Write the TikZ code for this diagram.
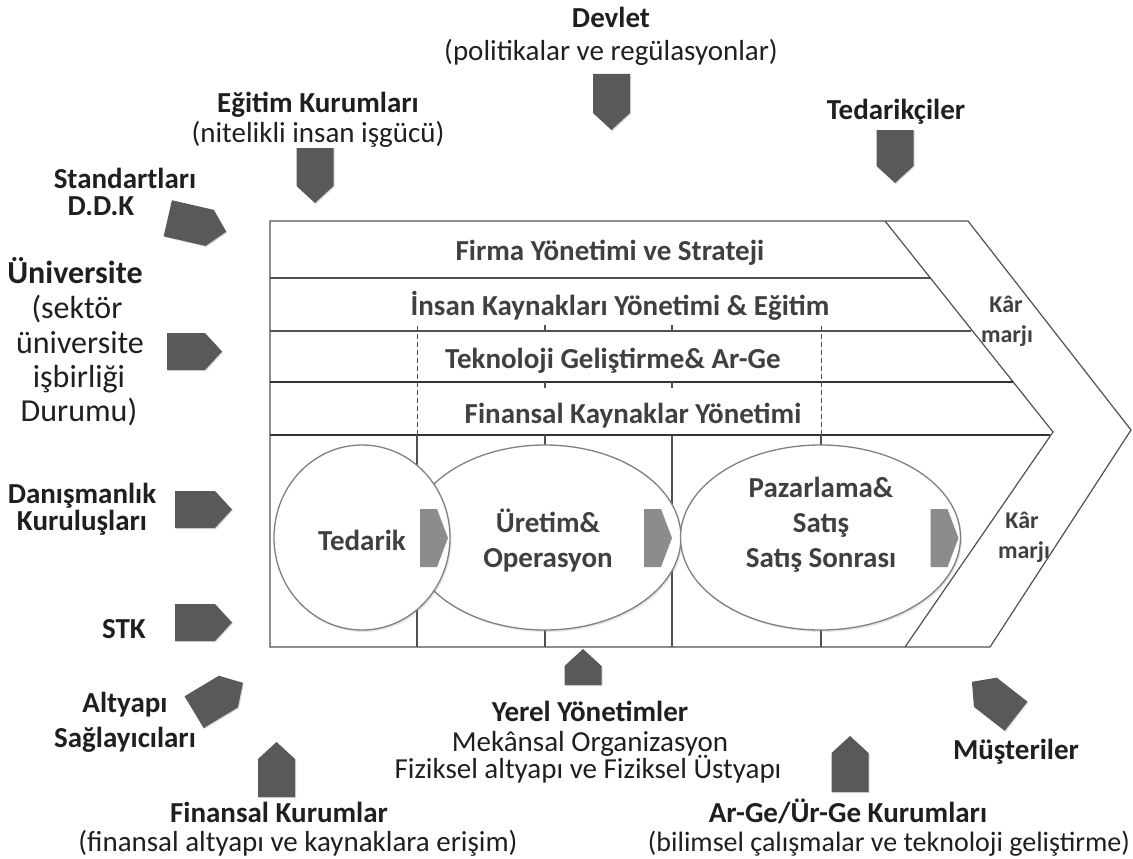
\documentclass[tikz,border=0pt]{standalone}
\usepackage{fontspec}
\setmainfont{Carlito}
\usetikzlibrary{shapes.geometric,shadows}

\definecolor{arrowgray}{HTML}{595959}
\definecolor{tabgray}{HTML}{8C8C8C}
\definecolor{linegray}{HTML}{505050}
\definecolor{rimgray}{HTML}{808080}
\definecolor{inktext}{HTML}{404040}
\definecolor{outtext}{HTML}{1F1F1F}

\tikzset{
  pics/inarrow/.style={code={
    \fill[arrowgray, drop shadow={opacity=.3, shadow xshift=1pt, shadow yshift=-1pt}]
      (-#1,-18.5) -- (#1-17,-18.5) -- (#1,0) -- (#1-17,18.5) -- (-#1,18.5) -- cycle;
  }},
  pics/steptab/.style={code={
    \fill[tabgray] (-14,-29) -- (3,-29) -- (14,0) -- (3,29) -- (-14,29) -- cycle;
  }},
  chainline/.style={draw=linegray, line width=1.2pt},
  thickrule/.style={draw=black!80, line width=2.8pt},
  dashrule/.style={draw=linegray, line width=0.9pt, dash pattern=on 5pt off 3pt},
  stage/.style={ellipse, draw=rimgray, line width=1.3pt, fill=white, inner sep=0pt,
    drop shadow={opacity=.2, shadow xshift=1.5pt, shadow yshift=-2pt}},
  outlabel/.style={anchor=base, inner sep=0pt, text=outtext, font=\bfseries\fontsize{29}{34}\selectfont},
  outnote/.style={anchor=base, inner sep=0pt, text=outtext, font=\fontsize{29}{34}\selectfont},
  unilabel/.style={anchor=base, inner sep=0pt, text=outtext, font=\fontsize{32}{36}\selectfont},
  bandlabel/.style={anchor=base, inner sep=0pt, text=inktext, font=\bfseries\fontsize{29}{34}\selectfont},
  marginlabel/.style={anchor=base, inner sep=0pt, text=inktext, font=\bfseries\fontsize{24}{28}\selectfont},
}

\begin{document}
\begin{tikzpicture}[x=1pt, y=-1pt]
\useasboundingbox (0,0) rectangle (1133,859);

% value chain frame
\draw[chainline] (270,221) -- (968,221) -- (1131,430) -- (990,647) -- (270,647) -- cycle;
\draw[chainline] (885,221) -- (1053,432) -- (905,647);
\draw[chainline] (270,278) -- (930,278);
\draw[chainline] (270,331) -- (971,331);
\draw[thickrule] (270,382) -- (1013,382);
\draw[thickrule] (270,435) -- (1050,435);
\draw[dashrule] (417,326) -- (417,435);
\draw[dashrule] (821,326) -- (821,435);
\foreach \x in {545,672} {
  \draw[chainline] (\x,325) -- (\x,331);
  \draw[chainline] (\x,382) -- (\x,388);
}
\foreach \x in {417,545,672,821}
  \draw[chainline] (\x,435) -- (\x,647);

% primary activities
\node[stage, minimum width=272pt, minimum height=185pt] (uretim) at (545,537.5) {};
\node[stage, minimum width=280pt, minimum height=185pt] (pazarlama) at (820.5,537.5) {};
\node[stage, minimum width=176pt, minimum height=185pt] (tedarik) at (362,537.5) {};

\pic (tab1) at (434,538) {steptab};
\pic (tab2) at (658,538) {steptab};
\pic (tab3) at (944.5,538) {steptab};

\node[bandlabel] (tedariktext) at (362,550) {Tedarik};
\node[bandlabel] (uretimtext) at (548,532) {Üretim\&};
\node[bandlabel] (operasyontext) at (548,567) {Operasyon};
\node[bandlabel] (pazarlamatext) at (821,497) {Pazarlama\&};
\node[bandlabel] (satistext) at (821,532) {Satış};
\node[bandlabel] (sonrasitext) at (821,567) {Satış Sonrası};

% support activities
\node[bandlabel] (firma) at (610,260) {Firma Yönetimi ve Strateji};
\node[bandlabel] (insan) at (620,315) {İnsan Kaynakları Yönetimi \& Eğitim};
\node[bandlabel] (teknoloji) at (613,368) {Teknoloji Geliştirme\& Ar-Ge};
\node[bandlabel] (finansyon) at (633,423) {Finansal Kaynaklar Yönetimi};

\node[marginlabel] (kar1) at (1006,312) {Kâr};
\node[marginlabel] (marj1) at (1007,342) {marjı};
\node[marginlabel] (kar2) at (1022,528) {Kâr};
\node[marginlabel] (marj2) at (1024,558) {marjı};

% outside actors
\node[outlabel] (devlet) at (611,28) {Devlet};
\node[outnote] (devletsub) at (611,61) {(politikalar ve regülasyonlar)};
\pic[rotate=-90] (devletok) at (611.5,102) {inarrow=28};

\node[outlabel] (egitim) at (318,113) {Eğitim Kurumları};
\node[outnote] (egitimsub) at (318,142) {(nitelikli insan işgücü)};
\pic[rotate=-90] (egitimok) at (315,175.5) {inarrow=27.5};

\node[outlabel] (tedarikci) at (896,119) {Tedarikçiler};
\pic[rotate=-90] (tedarikciok) at (895,156.5) {inarrow=26.5};

\node[outlabel] (standart) at (125,188) {Standartları};
\node[outlabel] (ddk) at (101,215) {D.D.K};
\pic[rotate=-13] (standartok) at (197,225) {inarrow=30};

\node[outlabel] (universite) at (75,283) {\fontsize{32}{36}\selectfont Üniversite};
\node[unilabel] (uni1) at (77,318) {(sektör};
\node[unilabel] (uni2) at (80,353) {üniversite};
\node[unilabel] (uni3) at (79,387) {işbirliği};
\node[unilabel] (uni4) at (79,421) {Durumu)};
\pic (universiteok) at (194.5,351.5) {inarrow=27.5};

\node[outlabel] (danisman) at (82,503) {Danışmanlık};
\node[outlabel] (kurulus) at (82,530) {Kuruluşları};
\pic (danismanok) at (203.5,509.5) {inarrow=28.5};

\node[outlabel] (stk) at (124,638) {STK};
\pic (stkok) at (203.5,622.5) {inarrow=28.5};

\node[outlabel] (altyapi) at (125,712) {Altyapı};
\node[outlabel] (saglayici) at (125,747) {Sağlayıcıları};
\pic[rotate=31] (altyapiok) at (218.5,697.5) {inarrow=28.5};

\node[outlabel] (finanskurum) at (279,822) {Finansal Kurumlar};
\node[outnote] (finanskurumsub) at (298,851) {(finansal altyapı ve kaynaklara erişim)};
\pic[rotate=90] (finanskurumok) at (276.5,769.5) {inarrow=27.5};

\node[outlabel] (yerel) at (590,721) {Yerel Yönetimler};
\node[outnote] (yerel1) at (590,751) {Mekânsal Organizasyon};
\node[outnote] (yerel2) at (588,778) {Fiziksel altyapı ve Fiziksel Üstyapı};
\pic[rotate=90] (yerelok) at (583,667) {inarrow=18};

\node[outlabel] (arge) at (848,822) {Ar-Ge/Ür-Ge Kurumları};
\node[outnote, font=\fontsize{28}{33}\selectfont] (argesub) at (889,851) {(bilimsel çalışmalar ve teknoloji geliştirme)};
\pic[rotate=90] (argeok) at (850,764) {inarrow=28};

\node[outlabel] (musteri) at (1016,759) {Müşteriler};
\pic[rotate=142] (musteriok) at (994,699) {inarrow=28};
\end{tikzpicture}
\end{document}
